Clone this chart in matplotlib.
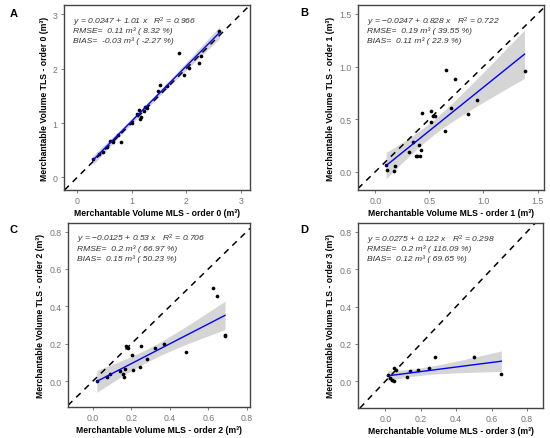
import numpy as np
import matplotlib
matplotlib.use("Agg")
import matplotlib.pyplot as plt

plt.rcParams['font.family'] = ['Liberation Sans', 'DejaVu Sans']
plt.rcParams['mathtext.fontset'] = 'custom'
plt.rcParams['mathtext.rm'] = 'Liberation Sans'
plt.rcParams['mathtext.it'] = 'Liberation Sans:italic'
plt.rcParams['mathtext.bf'] = 'Liberation Sans:bold'

# ---- data ----
a_mls = [0.29, 0.41, 0.47, 0.55, 0.61, 0.65, 0.75, 0.81, 1.00, 1.09, 1.13, 1.15, 1.17, 1.22,
         1.24, 1.28, 1.48, 1.52, 1.64, 1.87, 1.96, 2.06, 2.23, 2.27, 2.61]
a_tls = [0.34, 0.43, 0.47, 0.56, 0.67, 0.66, 0.78, 0.66, 1.01, 1.16, 1.24, 1.07, 1.11, 1.22,
         1.29, 1.28, 1.59, 1.70, 1.68, 2.28, 1.88, 2.01, 2.11, 2.24, 2.70]

b_mls = [0.10, 0.105, 0.17, 0.18, 0.316, 0.353, 0.377, 0.39, 0.41, 0.40, 0.42, 0.43, 0.512,
         0.512, 0.537, 0.55, 0.644, 0.653, 0.70, 0.736, 0.853, 0.945, 1.38]
b_tls = [0.064, 0.02, 0.004, 0.057, 0.184, 0.28, 0.146, 0.146, 0.146, 0.254, 0.21, 0.558, 0.47,
         0.58, 0.526, 0.53, 0.39, 0.97, 0.605, 0.88, 0.548, 0.685, 0.957]

c_mls = [0.02, 0.073, 0.087, 0.14, 0.157, 0.16, 0.165, 0.17, 0.183, 0.205, 0.209, 0.243,
         0.249, 0.283, 0.322, 0.369, 0.483, 0.623, 0.647, 0.685, 0.687]
c_tls = [0.0, 0.023, 0.036, 0.053, 0.036, 0.023, 0.062, 0.187, 0.178, 0.139, 0.057, 0.075,
         0.187, 0.116, 0.178, 0.196, 0.156, 0.50, 0.453, 0.245, 0.24]

d_mls = [0.013, 0.028, 0.037, 0.047, 0.040, 0.047, 0.060, 0.122, 0.137, 0.187, 0.249, 0.281,
         0.502, 0.655]
d_tls = [0.032, 0.018, 0.009, 0.004, 0.005, 0.071, 0.058, 0.021, 0.053, 0.062, 0.071, 0.128,
         0.128, 0.041]

intercepts = [0.0247, -0.0247, -0.0125, 0.0275]
slopes = [1.01, 0.828, 0.53, 0.122]
eq_texts = [r"y = 0.0247 + 1.01 x   $R^2$ = 0.966",
            r"y = $-$0.0247 + 0.828 x   $R^2$ = 0.722",
            r"y = $-$0.0125 + 0.53 x   $R^2$ = 0.706",
            r"y = 0.0275 + 0.122 x   $R^2$ = 0.298"]
rmse_texts = ["RMSE=  0.11 m³ ( 8.32 %)", "RMSE=  0.19 m³ ( 39.55 %)",
              "RMSE=  0.2 m³ ( 66.97 %)", "RMSE=  0.2 m³ ( 116.09 %)"]
bias_texts = ["BIAS=  -0.03 m³ ( -2.27 %)", "BIAS=  0.11 m³ ( 22.9 %)",
              "BIAS=  0.15 m³ ( 50.23 %)", "BIAS=  0.12 m³ ( 69.65 %)"]
panel_letters = ["A", "B", "C", "D"]
orders = ["0", "1", "2", "3"]
xlims = [(-0.24, 3.17), (-0.16, 1.56), (-0.13, 0.817), (-0.154, 0.89)]
ylims = [(-0.23, 3.17), (-0.174, 1.585), (-0.139, 0.846), (-0.143, 0.847)]
xticks = [[0, 1, 2, 3], [0.0, 0.5, 1.0, 1.5], [0.0, 0.2, 0.4, 0.6, 0.8], [0.0, 0.2, 0.4, 0.6, 0.8]]
tick_fmt = ["{:.0f}", "{:.1f}", "{:.1f}", "{:.1f}"]

datasets = [(a_mls, a_tls), (b_mls, b_tls), (c_mls, c_tls), (d_mls, d_tls)]

W, H = 550, 439
fig = plt.figure(figsize=(W / 100, H / 100), dpi=100)
boxes = [(64, 6, 250, 191), (358, 6, 544, 191), (68, 224, 250, 408), (358, 224, 543, 409)]
letter_pos = [(10, 14), (300, 13), (10, 230), (300, 230)]

frame_col = "#444444"
tick_col = "#666666"

for i in range(4):
    l, t, r, b = boxes[i]
    ax = fig.add_axes([l / W, 1 - b / H, (r - l) / W, (b - t) / H])
    x = np.array(datasets[i][0])
    y = np.array(datasets[i][1])
    ax.set_xlim(*xlims[i])
    ax.set_ylim(*ylims[i])

    # CI band around the fitted line
    a0, a1 = intercepts[i], slopes[i]
    xs = np.linspace(x.min(), x.max(), 100)
    fit = a0 + a1 * xs
    n = len(x)
    resid = y - (a0 + a1 * x)
    s = np.sqrt(np.sum(resid ** 2) / (n - 2))
    sxx = np.sum((x - x.mean()) ** 2)
    tval = 2.07
    half = tval * s * np.sqrt(1 / n + (xs - x.mean()) ** 2 / sxx)
    ax.fill_between(xs, fit - half, fit + half, color="#c8c8c8", alpha=0.75, lw=0, zorder=1)
    ax.axline((0, 0), slope=1, color="black", lw=1.1, ls=(0, (4, 3.5)), zorder=2)
    ax.scatter(x, y, s=7, color="black", lw=0, zorder=3)
    ax.plot(xs, fit, color="#0000ff", lw=1.0, zorder=4)

    ax.set_xticks(xticks[i])
    ax.set_yticks(xticks[i])
    ax.set_xticklabels([tick_fmt[i].format(v) for v in xticks[i]])
    ax.set_yticklabels([tick_fmt[i].format(v) for v in xticks[i]])
    ax.tick_params(length=2.5, width=0.6, color=tick_col, labelcolor="#777777",
                   labelsize=6.3, pad=2)
    for sp in ax.spines.values():
        sp.set_color(frame_col)
        sp.set_linewidth(1.0)

    ax.set_xlabel(f"Merchantable Volume MLS - order {orders[i]} (m³)", fontsize=6.2,
                  fontweight="bold", labelpad=2)
    ax.set_ylabel(f"Merchantable Volume TLS - order {orders[i]} (m³)", fontsize=6.2,
                  fontweight="bold", labelpad=3)

    tx = 0.048
    ax.text(tx, 0.914, eq_texts[i], transform=ax.transAxes, fontsize=6.1, style="italic",
            color="#333333", va="center", ha="left")
    ax.text(tx, 0.862, rmse_texts[i], transform=ax.transAxes, fontsize=6.1, style="italic",
            color="#333333", va="center", ha="left")
    ax.text(tx, 0.810, bias_texts[i], transform=ax.transAxes, fontsize=6.1, style="italic",
            color="#333333", va="center", ha="left")

    lx, ly = letter_pos[i]
    fig.text(lx / W, 1 - ly / H, panel_letters[i], fontsize=8, fontweight="bold",
             ha="left", va="center")

fig.savefig("out.png", dpi=100)
